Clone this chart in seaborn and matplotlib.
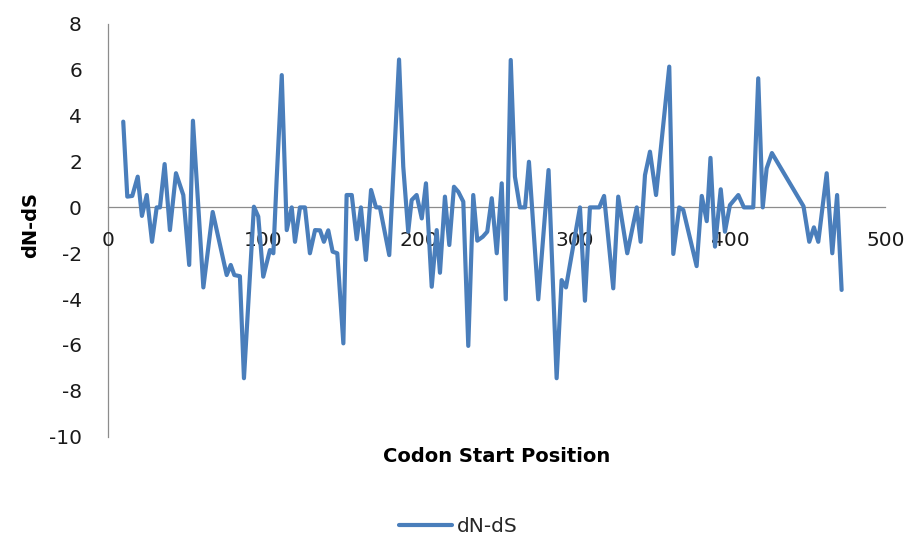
import matplotlib
matplotlib.use("Agg")
import matplotlib.pyplot as plt
import seaborn as sns
import pandas as pd

# Data
codon_start = [10.0, 12.6, 15.8, 19.3, 22.0, 25.1, 28.5, 31.5, 33.6, 36.6,
               40.0, 43.9, 48.6, 52.4, 54.8, 61.5, 67.5, 76.5, 79.1, 81.4,
               85.0, 87.6, 94.0, 96.8, 100.0, 104.3, 106.5, 108.6, 111.9, 115.1,
               118.3, 120.4, 123.6, 126.8, 130.0, 133.3, 136.5, 139.0, 141.8, 144.6,
               147.6, 151.5, 153.6, 156.9, 160.1, 162.8, 166.0, 169.3, 172.5, 175.0,
               181.0, 187.3, 190.0, 193.2, 195.4, 198.6, 201.9, 204.6, 208.3, 211.5,
               213.6, 216.8, 219.6, 222.6, 225.4, 228.6, 231.8, 235.0, 237.6, 241.1,
               244.0, 246.9, 250.1, 253.3, 255.9, 259.1, 261.8, 265.0, 268.3, 270.8,
               276.8, 283.4, 288.6, 291.8, 294.6, 303.6, 306.8, 310.0, 316.0, 319.1,
               325.0, 328.2, 334.0, 340.1, 342.6, 345.4, 348.6, 352.5, 361.0, 363.6,
               367.4, 370.0, 378.6, 381.9, 385.1, 387.5, 390.4, 394.1, 396.8, 400.0,
               405.4, 409.0, 415.0, 418.2, 421.1, 423.6, 427.0, 447.3, 451.0, 454.0,
               456.8, 462.2, 465.8, 468.9, 471.8]
dn_ds = [3.74, 0.47, 0.5, 1.34, -0.37, 0.54, -1.5, 0.0, 0.0, 1.89,
         -0.99, 1.49, 0.54, -2.51, 3.78, -3.49, -0.2, -2.95, -2.51, -2.95,
         -3.0, -7.45, 0.03, -0.4, -3.02, -1.86, -2.0, 1.2, 5.77, -0.99,
         0.0, -1.5, 0.0, 0.0, -2.0, -0.99, -1.0, -1.5, -1.0, -1.93,
         -2.0, -5.93, 0.54, 0.54, -1.39, 0.0, -2.29, 0.76, 0.0, 0.0,
         -2.08, 6.45, 1.78, -1.06, 0.32, 0.54, -0.48, 1.05, -3.46, -0.99,
         -2.85, 0.47, -1.64, 0.9, 0.68, 0.25, -6.04, 0.54, -1.45, -1.28,
         -1.06, 0.4, -2.0, 1.05, -4.01, 6.43, 1.34, 0.0, 0.0, 1.99,
         -4.01, 1.63, -7.45, -3.17, -3.49, 0.0, -4.07, 0.0, 0.0, 0.5,
         -3.53, 0.47, -2.0, 0.0, -1.5, 1.41, 2.43, 0.54, 6.14, -2.03,
         0.0, -0.11, -2.56, 0.5, -0.6, 2.16, -1.71, 0.79, -1.06, 0.1,
         0.54, 0.0, 0.0, 5.63, 0.0, 1.7, 2.37, 0.05, -1.5, -0.87,
         -1.5, 1.49, -2.0, 0.54, -3.6]
x_ticks = [0, 100, 200, 300, 400, 500]
y_ticks = [-10, -8, -6, -4, -2, 0, 2, 4, 6, 8]
series_name = "dN-dS"
x_title = "Codon Start Position"
y_title = "dN-dS"

sns.set_theme(style="white")
plt.rcParams["font.family"] = ["DejaVu Sans"]

df = pd.DataFrame({"pos": codon_start, "val": dn_ds})

fig = plt.figure(figsize=(9.08, 5.41), dpi=100)
ax = fig.add_axes([0.1186, 0.1928, 0.8566, 0.7629])

sns.lineplot(data=df, x="pos", y="val", ax=ax, color="#4A7EBB",
             linewidth=3.0, label=series_name, sort=False)

ax.set_xlim(0, 500)
ax.set_ylim(-10, 8)
ax.set_xticks(x_ticks)
ax.set_yticks(y_ticks)
ax.set_xticklabels([str(t) for t in x_ticks])
ax.set_yticklabels([str(t) for t in y_ticks])

for s in ["top", "right"]:
    ax.spines[s].set_visible(False)
ax.spines["bottom"].set_position(("data", 0))
ax.spines["left"].set_position(("data", 0))
for s in ["bottom", "left"]:
    ax.spines[s].set_color("#8C8C8C")
    ax.spines[s].set_linewidth(0.9)
    ax.spines[s].set_zorder(0.5)

ax.tick_params(axis="x", length=0, pad=17, labelsize=14.5, labelcolor="#1a1a1a")
ax.tick_params(axis="y", length=0, pad=18.5, labelsize=14.5, labelcolor="#1a1a1a")
ax.grid(False)

ax.set_xlabel(x_title, fontsize=14, fontweight="bold", color="#000000")
ax.set_ylabel(y_title, fontsize=14, fontweight="bold", color="#000000")
ax.xaxis.set_label_coords(0.5, -0.026)
ax.yaxis.set_label_coords(-0.087, 0.513)

ax.get_legend().remove()
handles, labels = ax.get_legend_handles_labels()
fig.legend(handles, labels, loc="center", bbox_to_anchor=(0.505, 0.026),
           frameon=False, fontsize=14.5, handlelength=2.65, handletextpad=0.25)

fig.savefig("out.png", dpi=100)
